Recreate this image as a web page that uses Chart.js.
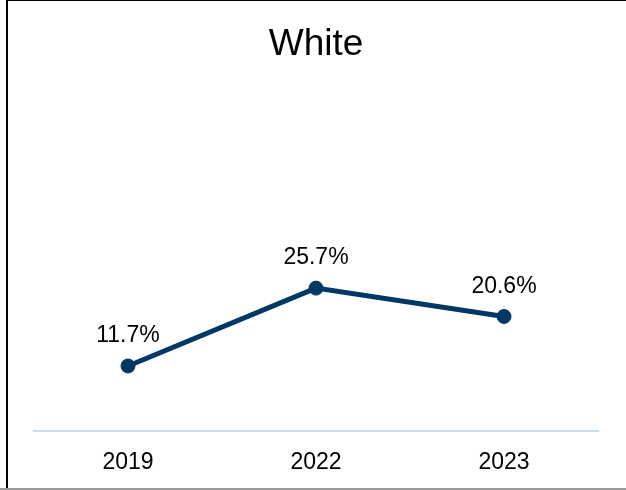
<!DOCTYPE html>
<html>
<head>
<meta charset="utf-8">
<script src="https://cdn.jsdelivr.net/npm/chart.js@4/dist/chart.umd.min.js"></script>
<style>
  html, body { margin: 0; padding: 0; background: #fff; }
  .frame { position: relative; width: 626px; height: 490px; overflow: hidden; }
  .frame canvas { position: absolute; left: 0; top: 4px; }
  .edge-left { position: absolute; left: 6px; top: 0; width: 2px; height: 489px; background: #000; }
  .edge-top { position: absolute; left: 6px; top: 0; width: 620px; height: 1px; background: #000; }
  .edge-bottom { position: absolute; left: 0; top: 488px; width: 626px; height: 2px; background: #9a9a9a; }
</style>
</head>
<body>
<div class="frame">
  <canvas id="lineChart" width="626" height="490"></canvas>
  <div class="edge-left"></div>
  <div class="edge-top"></div>
  <div class="edge-bottom"></div>
</div>
<script>
// Share of respondents by survey year
const years = ['2019', '2022', '2023'];
const shares = [11.7, 25.7, 20.6];
const chartTitle = 'White';

const lineColor = '#003865';
const fontFamily = '"Liberation Sans", Arial, sans-serif';

// Draws the percentage above each point
const pointLabels = {
  id: 'pointLabels',
  afterDatasetsDraw(chart) {
    const ctx = chart.ctx;
    const meta = chart.getDatasetMeta(0);
    ctx.save();
    ctx.font = '23px ' + fontFamily;
    ctx.fillStyle = '#000';
    ctx.textAlign = 'center';
    ctx.textBaseline = 'middle';
    meta.data.forEach((pt, i) => {
      ctx.fillText(shares[i].toFixed(1) + '%', pt.x, pt.y - 30);
    });
    ctx.restore();
  }
};

new Chart(document.getElementById('lineChart'), {
  type: 'line',
  data: {
    labels: years,
    datasets: [{
      data: shares,
      borderColor: lineColor,
      backgroundColor: lineColor,
      borderWidth: 5,
      pointRadius: 7,
      pointBorderWidth: 1,
      pointBackgroundColor: lineColor,
      tension: 0,
      fill: false
    }]
  },
  options: {
    responsive: false,
    animation: false,
    events: [],
    layout: { padding: { left: 34, right: 28, top: 0, bottom: 0 } },
    plugins: {
      legend: { display: false },
      tooltip: { enabled: false },
      title: {
        display: true,
        text: chartTitle,
        color: '#000',
        font: { family: fontFamily, size: 37, weight: 'normal' },
        padding: { top: 19, bottom: 30 }
      }
    },
    scales: {
      x: {
        offset: true,
        grid: { display: false, drawTicks: false },
        border: { display: true, color: '#c3dff5', width: 2 },
        ticks: {
          color: '#000',
          padding: 20,
          font: { family: fontFamily, size: 23, lineHeight: 1 }
        }
      },
      y: {
        display: false,
        min: 0,
        max: 60
      }
    }
  },
  plugins: [pointLabels]
});
</script>
</body>
</html>
